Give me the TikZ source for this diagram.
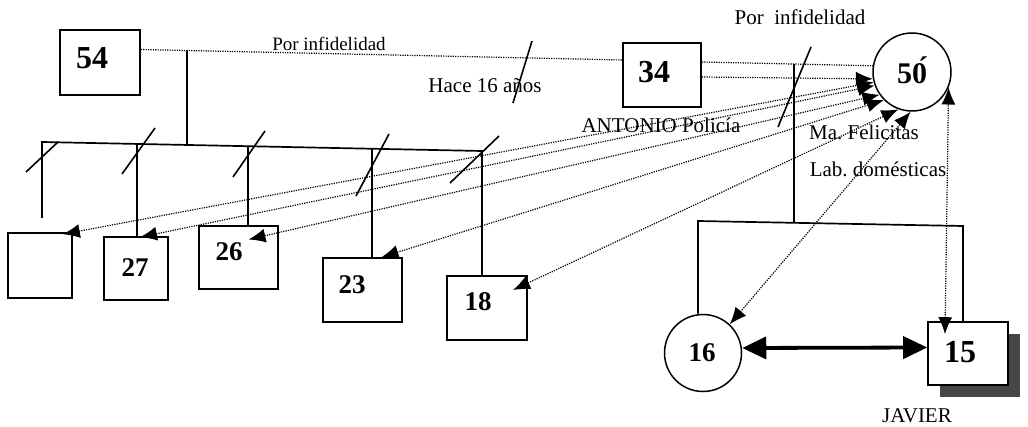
\documentclass[tikz,border=0pt]{standalone}
\usepackage{fontspec}
\setmainfont{Liberation Serif}
\usetikzlibrary{calc,arrows.meta}
\frenchspacing
\begin{document}
\begin{tikzpicture}[x=1pt,y=-1pt,
  box/.style={draw, line width=1.6pt, fill=white, inner sep=0pt},
  circ/.style={draw, circle, line width=1.5pt, inner sep=0pt, fill=white},
  num/.style={font=\fontsize{#1}{#1}\selectfont\bfseries, inner sep=0pt},
  lbl/.style={font=\fontsize{21}{21}\selectfont, inner sep=0pt, anchor=base},
  kin/.style={line width=1.7pt},
  cut/.style={line width=1.6pt},
  dotl/.style={dash pattern=on 1.2pt off 1.2pt, line width=1.2pt},
  rel/.style={dotl, {Latex[length=17pt,width=14pt]}-{Latex[length=17pt,width=14pt]}},
  relone/.style={dotl, -{Latex[length=17pt,width=14pt]}},
  bond/.style={line width=3.8pt, {Triangle[length=24pt,width=22pt]}-{Triangle[length=24pt,width=22pt]}}
]
\useasboundingbox (0,0) rectangle (1028,427);
% ---- nodes
\node[box, minimum width=80pt, minimum height=65pt] (b54) at (100,62.5) {};
\node[num=32] (t54) at (92,58) {54};
\node[box, minimum width=78pt, minimum height=64pt] (b34) at (662,75) {};
\node[num=32] (t34) at (654,72) {34};
\node[circ, minimum size=78pt] (c50) at (912,72) {};
\node[num=30] (t50) at (912,70) {5\'{0}};
\node[box, minimum width=64pt, minimum height=65pt] (e0) at (40,265.5) {};
\node[box, minimum width=64pt, minimum height=63pt] (b27) at (136,268.5) {};
\node[num=27] (t27) at (135,268) {27};
\node[box, minimum width=79pt, minimum height=63pt] (b26) at (238.5,257.5) {};
\node[num=27] (t26) at (229,252) {26};
\node[box, minimum width=79pt, minimum height=64pt] (b23) at (362.5,290) {};
\node[num=27] (t23) at (352,285) {23};
\node[box, minimum width=80pt, minimum height=64pt] (b18) at (487,308) {};
\node[num=27] (t18) at (478,302) {18};
\node[circ, minimum size=77pt] (c16) at (703,353) {};
\node[num=27] (t16) at (702,353) {16};
\node[fill=gray!55!black, minimum width=80pt, minimum height=63pt, inner sep=0pt] (sh15) at (980,365.5) {};
\node[box, minimum width=80pt, minimum height=63pt] (b15) at (968,353.5) {};
\node[num=32] (t15) at (960,352) {15};
% ---- labels
\node[lbl, font=\fontsize{19}{19}\selectfont] (l1) at (329,51) {Por infidelidad};
\node[lbl] (l2) at (485,93) {Hace 16 años};
\node[lbl] (l3) at (661,133) {ANTONIO Policía};
\node[lbl] (l4) at (864,140) {Ma. Felicitas};
\node[lbl] (l5) at (878,177) {Lab. domésticas};
\node[lbl] (l6) at (800,25) {Por\ \ infidelidad};
\node[lbl] (l7) at (917,422) {JAVIER};
% ---- 54 -- 34 union
\coordinate (p54) at ($(b54.east)+(0,-13)$);
\coordinate (p34) at ($(b34.west)+(0,-15)$);
\draw[dotl] (p54) -- (p34);
\coordinate (m54) at (187,50.5);
\coordinate (sibm) at (187,145);
\draw[kin] (m54) -- (sibm);
\coordinate (sl) at (42,142);
\coordinate (sr) at (482,151);
\coordinate (d0) at (42,218);
\draw[kin] (d0) -- (sl) -- (sr) -- (sr |- b18.north);
\coordinate (k27) at (137,143.9);
\coordinate (k26) at (248,146.2);
\coordinate (k23) at (372,148.8);
\draw[kin] (k27) -- (k27 |- b27.north);
\draw[kin] (k26) -- (k26 |- b26.north);
\draw[kin] (k23) -- (k23 |- b23.north);
% slashes
\draw[cut] (532,41) -- (513,103);
\draw[cut] (26,172) -- (58,142);
\draw[cut] (122,174) -- (155,128);
\draw[cut] (233,177) -- (265,131);
\draw[cut] (356,196) -- (389,134);
\draw[cut] (450,183) -- (499,136);
\draw[cut] (811,47) -- (778,127);
% ---- 34 -- 50 union
\draw[dotl] ($(b34.east)+(0,-13)$) -- (c50.171);
\draw[relone] ($(b34.east)+(0,2)$) -- (c50.190);
\coordinate (m50) at (794,64.5);
\coordinate (ch) at (794,222);
\draw[kin] (m50) -- (ch);
\coordinate (hl) at (698,221);
\coordinate (hr) at (963,226);
\draw[kin] (hl |- c16.north) -- (hl) -- (hr) -- (hr |- b15.north);
% ---- relations with 50
\draw[rel] ($(e0.north east)+(-10,2)$) -- (c50.195);
\draw[rel] ($(b27.north)+(4,1)$) -- (c50.200);
\draw[rel] ($(b26.center)+(10,-18)$) -- (c50.215);
\draw[rel] ($(b23.north)+(19,0)$) -- (c50.225);
\draw[rel] ($(b18.center)+(26,-18)$) -- (c50.250);
\draw[rel] (c16.47) -- (c50.268);
\draw[rel] ($(b15.north)+(-23,13)$) -- (c50.337);
% ---- 16 -- 15
\draw[bond] ($(c16.east)+(0,-5)$) -- ($(b15.west)+(0,-6)$);
\end{tikzpicture}
\end{document}
